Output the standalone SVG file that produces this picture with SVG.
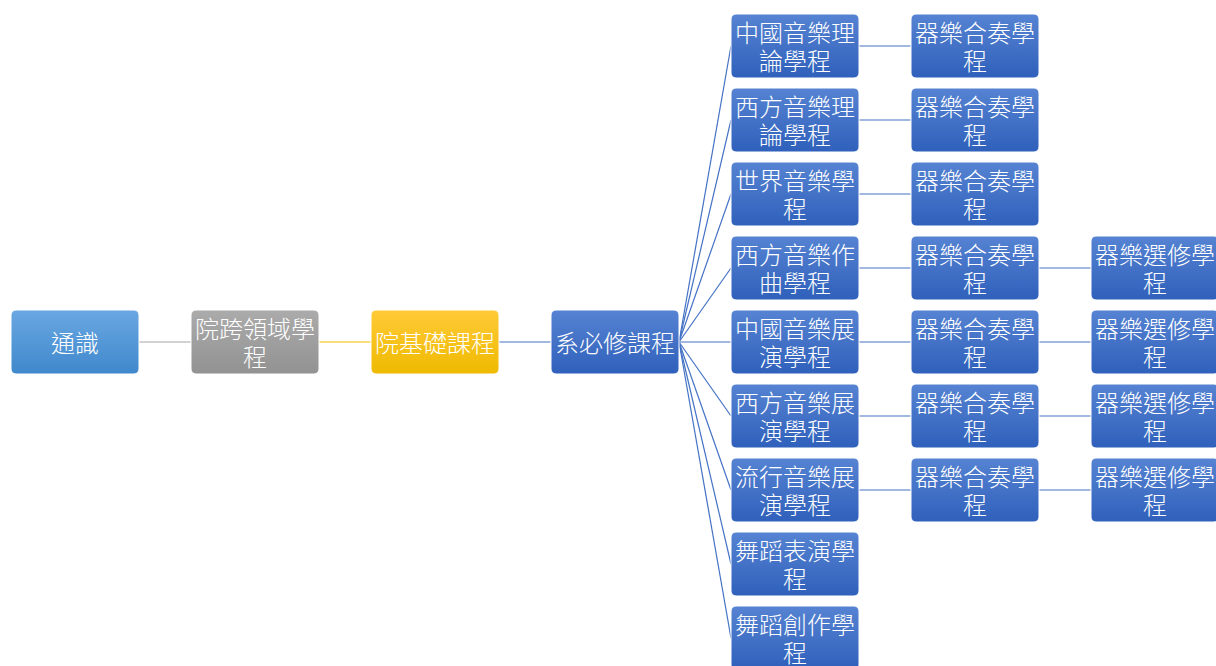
<svg xmlns="http://www.w3.org/2000/svg" width="1216" height="666" viewBox="0 0 1216 666">
<defs>
<linearGradient id="gBlue" x1="0" y1="0" x2="0" y2="1"><stop offset="0" stop-color="#5683d2"/><stop offset="1" stop-color="#2f60bb"/></linearGradient>
<linearGradient id="gLight" x1="0" y1="0" x2="0" y2="1"><stop offset="0" stop-color="#6aa7e2"/><stop offset="1" stop-color="#3f88cc"/></linearGradient>
<linearGradient id="gGray" x1="0" y1="0" x2="0" y2="1"><stop offset="0" stop-color="#ababab"/><stop offset="1" stop-color="#929292"/></linearGradient>
<linearGradient id="gYellow" x1="0" y1="0" x2="0" y2="1"><stop offset="0" stop-color="#ffca38"/><stop offset="1" stop-color="#efba00"/></linearGradient>
</defs>
<style>
.n rect{stroke:#ffffff;stroke-width:1;}
.b rect{fill:url(#gBlue);}
.t{font-family:"Noto Sans CJK TC","Noto Sans CJK SC",sans-serif;font-size:24px;font-weight:300;fill:#ffffff;text-anchor:middle;dominant-baseline:central;}
.c{fill:none;stroke:#4472c4;stroke-width:1.2;}
</style>
<rect width="1216" height="666" fill="#ffffff"/>
<g id="connectors">
<line x1="139" y1="342" x2="191" y2="342" stroke="#a5a5a5" stroke-width="1.2"/>
<line x1="319" y1="342" x2="371" y2="342" stroke="#f0bb00" stroke-width="1.2"/>
<line class="c" x1="499" y1="342" x2="551" y2="342"/>
<line class="c" x1="679" y1="342" x2="731" y2="46"/>
<line class="c" x1="679" y1="342" x2="731" y2="120"/>
<line class="c" x1="679" y1="342" x2="731" y2="194"/>
<line class="c" x1="679" y1="342" x2="731" y2="268"/>
<line class="c" x1="679" y1="342" x2="731" y2="342"/>
<line class="c" x1="679" y1="342" x2="731" y2="416"/>
<line class="c" x1="679" y1="342" x2="731" y2="490"/>
<line class="c" x1="679" y1="342" x2="731" y2="564"/>
<line class="c" x1="679" y1="342" x2="731" y2="638"/>
<line class="c" x1="859" y1="46" x2="911" y2="46"/>
<line class="c" x1="859" y1="120" x2="911" y2="120"/>
<line class="c" x1="859" y1="194" x2="911" y2="194"/>
<line class="c" x1="859" y1="268" x2="911" y2="268"/>
<line class="c" x1="859" y1="342" x2="911" y2="342"/>
<line class="c" x1="859" y1="416" x2="911" y2="416"/>
<line class="c" x1="859" y1="490" x2="911" y2="490"/>
<line class="c" x1="1039" y1="268" x2="1091" y2="268"/>
<line class="c" x1="1039" y1="342" x2="1091" y2="342"/>
<line class="c" x1="1039" y1="416" x2="1091" y2="416"/>
<line class="c" x1="1039" y1="490" x2="1091" y2="490"/>
</g>
<g id="n1" class="n"><rect x="11" y="310" width="128" height="64" rx="5" fill="url(#gLight)"/><text class="t" x="75" y="341">通識</text></g>
<g id="n2" class="n"><rect x="191" y="310" width="128" height="64" rx="5" fill="url(#gGray)"/><text class="t" x="255" y="327">院跨領域學</text><text class="t" x="255" y="355">程</text></g>
<g id="n3" class="n"><rect x="371" y="310" width="128" height="64" rx="5" fill="url(#gYellow)"/><text class="t" x="435" y="341">院基礎課程</text></g>
<g id="n4" class="n b"><rect x="551" y="310" width="128" height="64" rx="5"/><text class="t" x="615" y="341">系必修課程</text></g>

<g id="a1" class="n b"><rect x="731" y="14" width="128" height="64" rx="5"/><text class="t" x="795" y="31">中國音樂理</text><text class="t" x="795" y="59">論學程</text></g>
<g id="a2" class="n b"><rect x="731" y="88" width="128" height="64" rx="5"/><text class="t" x="795" y="105">西方音樂理</text><text class="t" x="795" y="133">論學程</text></g>
<g id="a3" class="n b"><rect x="731" y="162" width="128" height="64" rx="5"/><text class="t" x="795" y="179">世界音樂學</text><text class="t" x="795" y="207">程</text></g>
<g id="a4" class="n b"><rect x="731" y="236" width="128" height="64" rx="5"/><text class="t" x="795" y="253">西方音樂作</text><text class="t" x="795" y="281">曲學程</text></g>
<g id="a5" class="n b"><rect x="731" y="310" width="128" height="64" rx="5"/><text class="t" x="795" y="327">中國音樂展</text><text class="t" x="795" y="355">演學程</text></g>
<g id="a6" class="n b"><rect x="731" y="384" width="128" height="64" rx="5"/><text class="t" x="795" y="401">西方音樂展</text><text class="t" x="795" y="429">演學程</text></g>
<g id="a7" class="n b"><rect x="731" y="458" width="128" height="64" rx="5"/><text class="t" x="795" y="475">流行音樂展</text><text class="t" x="795" y="503">演學程</text></g>
<g id="a8" class="n b"><rect x="731" y="532" width="128" height="64" rx="5"/><text class="t" x="795" y="549">舞蹈表演學</text><text class="t" x="795" y="577">程</text></g>
<g id="a9" class="n b"><rect x="731" y="606" width="128" height="64" rx="5"/><text class="t" x="795" y="623">舞蹈創作學</text><text class="t" x="795" y="651">程</text></g>

<g id="b1" class="n b"><rect x="911" y="14" width="128" height="64" rx="5"/><text class="t" x="975" y="31">器樂合奏學</text><text class="t" x="975" y="59">程</text></g>
<g id="b2" class="n b"><rect x="911" y="88" width="128" height="64" rx="5"/><text class="t" x="975" y="105">器樂合奏學</text><text class="t" x="975" y="133">程</text></g>
<g id="b3" class="n b"><rect x="911" y="162" width="128" height="64" rx="5"/><text class="t" x="975" y="179">器樂合奏學</text><text class="t" x="975" y="207">程</text></g>
<g id="b4" class="n b"><rect x="911" y="236" width="128" height="64" rx="5"/><text class="t" x="975" y="253">器樂合奏學</text><text class="t" x="975" y="281">程</text></g>
<g id="b5" class="n b"><rect x="911" y="310" width="128" height="64" rx="5"/><text class="t" x="975" y="327">器樂合奏學</text><text class="t" x="975" y="355">程</text></g>
<g id="b6" class="n b"><rect x="911" y="384" width="128" height="64" rx="5"/><text class="t" x="975" y="401">器樂合奏學</text><text class="t" x="975" y="429">程</text></g>
<g id="b7" class="n b"><rect x="911" y="458" width="128" height="64" rx="5"/><text class="t" x="975" y="475">器樂合奏學</text><text class="t" x="975" y="503">程</text></g>

<g id="c1" class="n b"><rect x="1091" y="236" width="128" height="64" rx="5"/><text class="t" x="1155" y="253">器樂選修學</text><text class="t" x="1155" y="281">程</text></g>
<g id="c2" class="n b"><rect x="1091" y="310" width="128" height="64" rx="5"/><text class="t" x="1155" y="327">器樂選修學</text><text class="t" x="1155" y="355">程</text></g>
<g id="c3" class="n b"><rect x="1091" y="384" width="128" height="64" rx="5"/><text class="t" x="1155" y="401">器樂選修學</text><text class="t" x="1155" y="429">程</text></g>
<g id="c4" class="n b"><rect x="1091" y="458" width="128" height="64" rx="5"/><text class="t" x="1155" y="475">器樂選修學</text><text class="t" x="1155" y="503">程</text></g>
</svg>
